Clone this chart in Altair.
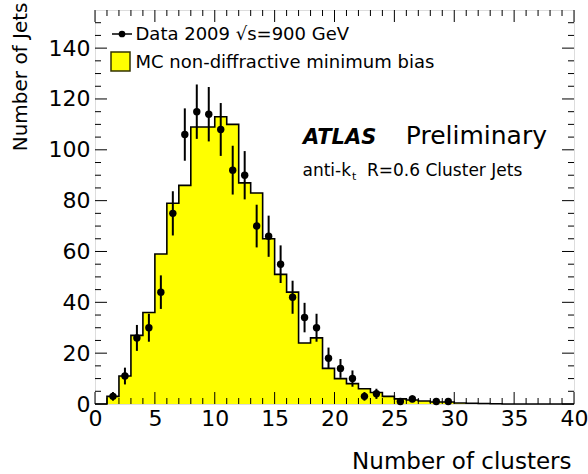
import altair as alt
import pandas as pd

FONT = "DejaVu Sans"

# MC histogram: bin lower edges (width 1) and contents
mc_lo = list(range(0, 40))
mc_val = [0, 3, 11, 27, 36, 59, 79, 86, 109, 109,
          113, 110, 87, 83, 65, 51, 44, 24, 26, 14,
          10, 8, 6, 4.5, 3, 2, 1.6, 1.2, 0.8, 0.8,
          0.4, 0.3, 0.2, 0.1, 0, 0, 0, 0, 0, 0]

# Data 2009 points
data_x = [1.5, 2.5, 3.5, 4.5, 5.5, 6.5, 7.5, 8.5, 9.5, 10.5,
          11.5, 12.5, 13.5, 14.5, 15.5, 16.5, 17.5, 18.5, 19.5, 20.5,
          21.5, 22.5, 23.5, 25.5, 26.5, 28.5, 29.5]
data_y = [3, 11, 26, 30, 44, 75, 106, 115, 114, 108,
          92, 90, 70, 66, 55, 42, 34, 30, 18, 14,
          10, 3, 4, 1, 2, 1, 1]
data_err = [1.7, 3.3, 5.1, 5.5, 6.6, 8.7, 10.3, 10.7, 10.7, 10.4,
            9.6, 9.5, 8.4, 8.1, 7.4, 6.5, 5.8, 5.5, 4.2, 3.7,
            3.2, 1.7, 2.0, 1.0, 1.4, 1.0, 1.0]

x_ticks = [0, 5, 10, 15, 20, 25, 30, 35, 40]
x_minor = [v for v in range(1, 40) if v % 5 != 0]
y_ticks = [0, 20, 40, 60, 80, 100, 120, 140]
y_minor = [v for v in range(5, 155, 5) if v % 20 != 0]

W, H = 479, 394
xs = alt.Scale(domain=[0, 40], nice=False, zero=False)
ys = alt.Scale(domain=[0, 155], nice=False, zero=False)

XAX = alt.Axis(
    values=x_ticks, ticks=False, domain=False, grid=False,
    labelFont=FONT, labelFontSize=22, labelColor="black", labelPadding=4,
    labelOverlap=False, labelFlush=False,
    title="Number of clusters", titleFont=FONT, titleFontSize=23,
    titleFontWeight="normal", titleColor="black",
    titleX=476, titleY=57, titleAlign="right", titleBaseline="middle")
YAX = alt.Axis(
    values=y_ticks, ticks=False, domain=False, grid=False,
    labelFont=FONT, labelFontSize=22, labelColor="black", labelPadding=5,
    labelOverlap=False, labelFlush=False,
    title="Number of Jets", titleFont=FONT, titleFontSize=20,
    titleFontWeight="normal", titleColor="black",
    titleX=-75, titleY=-8, titleAlign="right", titleBaseline="middle", titleAngle=270)


def X(f):
    return alt.X(f, scale=xs, axis=XAX)


def Y(f):
    return alt.Y(f, scale=ys, axis=YAX)


outline = pd.DataFrame({"edge": mc_lo + [40], "val": mc_val + [mc_val[-1]]})
pts = pd.DataFrame({"x": data_x, "y": data_y,
                    "lo": [a - b for a, b in zip(data_y, data_err)],
                    "hi": [a + b for a, b in zip(data_y, data_err)]})

fill = alt.Chart(outline).mark_area(interpolate="step-after", color="#FFFF00", opacity=1).encode(
    x=X("edge:Q"), y=Y("val:Q"), y2=alt.datum(0))

line = alt.Chart(outline).mark_line(interpolate="step-after", color="black", strokeWidth=1.6).encode(
    x=X("edge:Q"), y=Y("val:Q"))

err = alt.Chart(pts).mark_rule(color="black", strokeWidth=2).encode(
    x=X("x:Q"), y=Y("lo:Q"), y2="hi:Q")
dots = alt.Chart(pts).mark_circle(color="black", size=55, opacity=1).encode(
    x=X("x:Q"), y=Y("y:Q"))


def xtick(vals, y1, y2):
    return alt.Chart(pd.DataFrame({"v": vals})).mark_rule(color="black", strokeWidth=1).encode(
        x=X("v:Q"), y=alt.value(y1), y2=alt.value(y2))


def ytick(vals, x1, x2):
    return alt.Chart(pd.DataFrame({"v": vals})).mark_rule(color="black", strokeWidth=1).encode(
        y=Y("v:Q"), x=alt.value(x1), x2=alt.value(x2))


ticks = [
    xtick(x_ticks, H, H - 12), xtick(x_minor, H, H - 6),
    xtick(x_ticks, 0, 12), xtick(x_minor, 0, 6),
    ytick(y_ticks, 0, 12), ytick(y_minor, 0, 6),
    ytick(y_ticks, W, W - 12), ytick(y_minor, W, W - 6),
]

one = pd.DataFrame({"t": ["legend"]})
leg_line = alt.Chart(one).mark_rule(color="black", strokeWidth=1.5).encode(
    x=alt.value(17), x2=alt.value(37), y=alt.value(24))
leg_dot = alt.Chart(one).mark_circle(color="black", size=45, opacity=1).encode(
    x=alt.value(27), y=alt.value(24))
leg_box = alt.Chart(one).mark_rect(fill="#FFFF00", stroke="#333300", strokeWidth=1.5).encode(
    x=alt.value(16), x2=alt.value(35), y=alt.value(42), y2=alt.value(61))


def label(text, x, y, size, align="left", weight="normal", style="normal"):
    return alt.Chart(pd.DataFrame({"t": [text]})).mark_text(
        font=FONT, fontSize=size, align=align, baseline="alphabetic",
        fontWeight=weight, fontStyle=style, color="black").encode(
        x=alt.value(x), y=alt.value(y), text="t:N")


texts = [
    label("Data 2009 √s=900 GeV", 40.5, 29.5, 18),
    label("MC non-diffractive minimum bias", 40.5, 57.5, 18),
    label("ATLAS", 208, 133.5, 21, weight="bold", style="italic"),
    label("Preliminary", 452, 133.5, 25, align="right"),
    label("anti-k", 207.5, 165.5, 17),
    label("t", 257, 170, 11),
    label("R=0.6 Cluster Jets", 272, 165.5, 17),
]

chart = alt.layer(fill, line, err, dots, *ticks, leg_line, leg_dot, leg_box, *texts).properties(
    width=W, height=H,
    autosize=alt.AutoSizeParams(type="none"),
    padding={"left": 95, "top": 10, "right": 14, "bottom": 70},
).configure_view(stroke="black", strokeWidth=1.5).configure(background="white")

chart.save("out.html", embed_options={"renderer": "svg", "actions": False})
